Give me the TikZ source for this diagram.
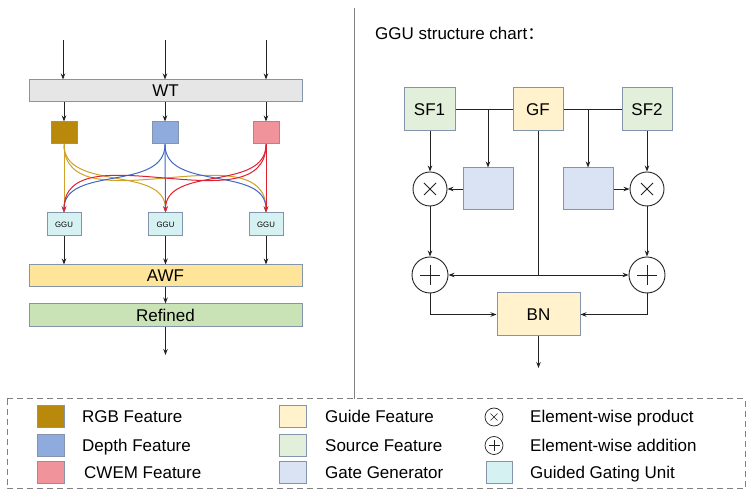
\documentclass[tikz,border=0pt]{standalone}
\usepackage{fontspec}
\setmainfont{Liberation Sans}
\newfontfamily\cjk{Noto Sans CJK SC}
\usetikzlibrary{arrows.meta}
\definecolor{bordc}{HTML}{8494AC}
\definecolor{wtc}{HTML}{E6E6E6}
\definecolor{rgbc}{HTML}{B8890B}
\definecolor{depc}{HTML}{8FAADC}
\definecolor{cwc}{HTML}{F0939B}
\definecolor{ggc}{HTML}{D5F1F1}
\definecolor{awfc}{HTML}{FFE599}
\definecolor{refc}{HTML}{C9E3B6}
\definecolor{sfc}{HTML}{E2EFDA}
\definecolor{gfc}{HTML}{FFF2CC}
\definecolor{gatec}{HTML}{DAE3F3}
\definecolor{goldl}{HTML}{CFA02A}
\definecolor{bluel}{HTML}{3F68C2}
\definecolor{redl}{HTML}{E0202F}
\definecolor{linec}{HTML}{222222}
\definecolor{dashc}{HTML}{808080}
\begin{document}
\begin{tikzpicture}[x=1pt,y=-1pt,
  font=\fontsize{17}{20}\selectfont,
  box/.style={draw=bordc, line width=1pt, rectangle, inner sep=0pt},
  bar/.style={box, minimum width=273pt},
  feat/.style={box, minimum width=26pt, minimum height=22pt},
  ggubox/.style={box, fill=ggc, minimum width=34pt, minimum height=23pt, font=\fontsize{7.8}{9}\selectfont},
  big/.style={box, minimum width=50pt, minimum height=43pt},
  circ/.style={draw=linec, circle, line width=0.9pt, inner sep=0pt},
  arr/.style={draw=linec, line width=0.9pt, -{Stealth[length=6pt,width=4.5pt]}},
  ln/.style={draw=linec, line width=0.9pt},
  carr/.style={line width=1pt, -{Stealth[length=6pt,width=4.5pt]}},
  swatch/.style={box, minimum width=27pt, minimum height=22pt},
  ltxt/.style={anchor=base west, inner sep=0pt}
]
\useasboundingbox (0,0) rectangle (756,502);

% ---------- left part ----------
\coordinate (in1) at (63,40);
\coordinate (in2) at (165,40);
\coordinate (in3) at (266,40);
\node[bar, fill=wtc, minimum height=22pt] (wt) at (165.5,91) {WT};
\node[feat, fill=rgbc] (rgb) at (64,133) {};
\node[feat, fill=depc] (dep) at (165,133) {};
\node[feat, fill=cwc] (cw) at (266,133) {};
\node[ggubox] (g1) at (64,224.5) {GGU};
\node[ggubox] (g2) at (165.5,224.5) {GGU};
\node[ggubox] (g3) at (266,224.5) {GGU};
\node[bar, fill=awfc, minimum height=22pt] (awf) at (165.5,276) {AWF};
\node[bar, fill=refc, minimum height=23pt] (ref) at (165.5,315.5) {Refined};
\coordinate (outl) at (165.5,355);

\draw[arr] (in1) -- (in1 |- wt.north);
\draw[arr] (in2) -- (in2 |- wt.north);
\draw[arr] (in3) -- (in3 |- wt.north);
\draw[arr] (rgb.north |- wt.south) -- (rgb.north);
\draw[arr] (dep.north |- wt.south) -- (dep.north);
\draw[arr] (cw.north |- wt.south) -- (cw.north);

% curves
\draw[carr, goldl] (rgb.south) to[out=-90,in=90] (g3.north);
\draw[carr, goldl] (rgb.south) to[out=-90,in=90] (g2.north);
\draw[carr, goldl] (rgb.south) -- (g1.north);
\draw[carr, bluel] (dep.south) to[out=-90,in=90] (g1.north);
\draw[carr, bluel] (dep.south) to[out=-90,in=90] (g3.north);
\draw[carr, bluel] (dep.south) -- (g2.north);
\draw[carr, redl] (cw.south) to[out=-90,in=90] (g1.north);
\draw[carr, redl] (cw.south) to[out=-90,in=90] (g2.north);
\draw[carr, redl] (cw.south) -- (g3.north);

\draw[arr] (g1.south) -- (g1.south |- awf.north);
\draw[arr] (g2.south) -- (g2.south |- awf.north);
\draw[arr] (g3.south) -- (g3.south |- awf.north);
\draw[arr] (awf.south) -- (ref.north);
\draw[arr] (ref.south) -- (outl);

% divider
\draw[dashc, line width=1pt] (354,8) -- (354,399);

% ---------- right part ----------
\node[anchor=base west, inner sep=0pt] (title) at (375,39.5) {GGU structure chart{\cjk ：}};
\node[big, fill=sfc, minimum width=51pt] (sf1) at (429.5,109.5) {SF1};
\node[big, fill=gfc] (gf) at (538,109.5) {GF};
\node[big, fill=sfc] (sf2) at (647,109.5) {SF2};
\node[big, fill=gatec, minimum height=42pt] (gt1) at (488,189) {};
\node[big, fill=gatec, minimum height=42pt] (gt2) at (588,189) {};
\node[circ, minimum size=34pt] (m1) at (430,189) {};
\node[circ, minimum size=34pt] (m2) at (647,189) {};
\node[circ, minimum size=36pt] (a1) at (430,275) {};
\node[circ, minimum size=36pt] (a2) at (647,275) {};
\node[big, fill=gfc, minimum width=83pt] (bn) at (538.5,314.5) {BN};
\coordinate (jn) at (538,275);
\coordinate (br1) at (488,109.5);
\coordinate (br2) at (588,109.5);
\coordinate (outr) at (538.5,368);

% symbols
\foreach \n in {m1,m2}{
  \draw[linec, line width=0.8pt] ([shift={(-6,-6)}]\n.center) -- ([shift={(6,6)}]\n.center);
  \draw[linec, line width=0.8pt] ([shift={(-6,6)}]\n.center) -- ([shift={(6,-6)}]\n.center);
}
\foreach \n in {a1,a2}{
  \draw[linec, line width=0.8pt] ([shift={(-10,0)}]\n.center) -- ([shift={(10,0)}]\n.center);
  \draw[linec, line width=0.8pt] ([shift={(0,-10)}]\n.center) -- ([shift={(0,10)}]\n.center);
}

\draw[ln] (sf1.east) -- (gf.west);
\draw[ln] (gf.east) -- (sf2.west);
\draw[arr] (br1) -- (gt1.north);
\draw[arr] (br2) -- (gt2.north);
\draw[arr] (sf1.south -| m1) -- (m1.north);
\draw[arr] (sf2.south) -- (m2.north);
\draw[arr] (gt1.west) -- (m1.east);
\draw[arr] (gt2.east) -- (m2.west);
\draw[arr] (m1.south) -- (a1.north);
\draw[arr] (m2.south) -- (a2.north);
\draw[ln] (gf.south) -- (jn);
\draw[arr] (jn) -- (a1.east);
\draw[arr] (jn) -- (a2.west);
\draw[arr] (a1.south) |- (bn.west);
\draw[arr] (a2.south) |- (bn.east);
\draw[arr] (bn.south) -- (outr);

% ---------- legend ----------
\draw[dashc, line width=1pt, dash pattern=on 6pt off 4pt] (7,399) rectangle (745,489);
\node[swatch, fill=rgbc] (l1) at (50.5,417) {};
\node[swatch, fill=depc] (l2) at (50.5,445.5) {};
\node[swatch, fill=cwc] (l3) at (50.5,473) {};
\node[ltxt] (t1) at (82,423) {RGB Feature};
\node[ltxt] (t2) at (82,451.5) {Depth Feature};
\node[ltxt] (t3) at (84,479) {CWEM Feature};
\node[swatch, fill=gfc] (l4) at (292.5,417) {};
\node[swatch, fill=sfc] (l5) at (292.5,445.5) {};
\node[swatch, fill=gatec] (l6) at (292.5,473) {};
\node[ltxt] (t4) at (325,423) {Guide Feature};
\node[ltxt] (t5) at (325,451.5) {Source Feature};
\node[ltxt] (t6) at (325,479) {Gate Generator};
\node[circ, minimum size=18pt, line width=0.7pt] (l7) at (494,417) {};
\node[circ, minimum size=18pt, line width=0.7pt] (l8) at (494,445.5) {};
\draw[linec, line width=0.6pt] ([shift={(-3.5,-3.5)}]l7.center) -- ([shift={(3.5,3.5)}]l7.center);
\draw[linec, line width=0.6pt] ([shift={(-3.5,3.5)}]l7.center) -- ([shift={(3.5,-3.5)}]l7.center);
\draw[linec, line width=0.6pt] ([shift={(-5.5,0)}]l8.center) -- ([shift={(5.5,0)}]l8.center);
\draw[linec, line width=0.6pt] ([shift={(0,-5.5)}]l8.center) -- ([shift={(0,5.5)}]l8.center);
\node[swatch, fill=ggc, minimum width=26pt] (l9) at (499,473) {};
\node[ltxt] (t7) at (530,423) {Element-wise product};
\node[ltxt] (t8) at (530,451.5) {Element-wise addition};
\node[ltxt] (t9) at (530,479) {Guided Gating Unit};
\end{tikzpicture}
\end{document}
